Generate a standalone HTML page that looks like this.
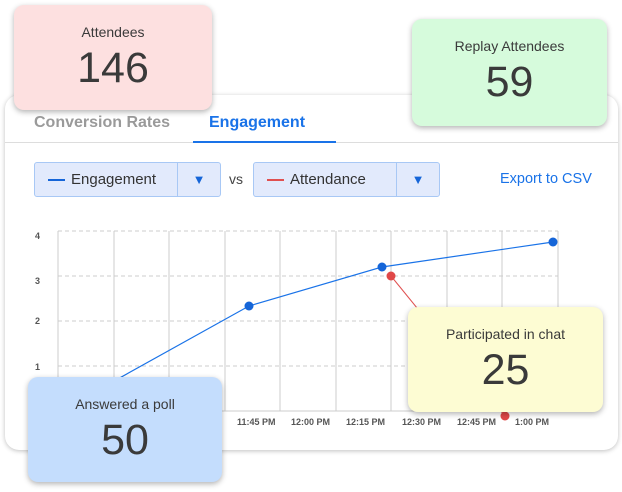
<!DOCTYPE html>
<html><head><style>
body{margin:0;width:622px;height:492px;background:#fff;position:relative;overflow:hidden;font-family:"Liberation Sans",sans-serif;}
.main{position:absolute;left:5px;top:95px;width:613px;height:355px;background:#fff;border-radius:14px;box-shadow:0 1px 5px rgba(0,0,0,.25);}
.card{position:absolute;border-radius:10px;box-shadow:0 2px 6px rgba(0,0,0,.3);text-align:center;color:#3a3a3a;}
.card .t{font-size:14px;margin-top:19px;}
.card .n{font-size:43px;margin-top:4px;}
.dd{position:absolute;top:162px;height:33px;background:#e2eafc;border:1px solid #a8c8f5;border-radius:3px;font-size:15px;color:#333;}
.dd .l{position:absolute;left:13px;top:16px;width:17px;height:2px;}
.dd .x{position:absolute;left:54px;top:8px;}
.dd .a{position:absolute;right:0;top:0;width:42px;height:33px;border-left:1px solid #a8c8f5;color:#1565d8;font-size:13px;text-align:center;line-height:33px;}
.xl{position:absolute;top:417px;font-size:9px;color:#555;font-weight:bold;}
</style></head><body>
<div class="main"></div>
<div style="position:absolute;left:34px;top:114px;font-size:16px;font-weight:bold;color:#9a9a9a">Conversion Rates</div>
<div style="position:absolute;left:209px;top:114px;font-size:16px;font-weight:bold;color:#1a73e8">Engagement</div>
<div style="position:absolute;left:5px;top:142px;width:613px;height:1px;background:#ddd"></div>
<div style="position:absolute;left:193px;top:141px;width:143px;height:2px;background:#1a73e8"></div>
<div class="dd" style="left:34px;width:185px"><div class="l" style="background:#1565d8"></div><div class="x" style="left:36px">Engagement</div><div class="a">▼</div></div>
<div style="position:absolute;left:229px;top:171px;font-size:14px;color:#444">vs</div>
<div class="dd" style="left:253px;width:185px"><div class="l" style="background:#e05050"></div><div class="x" style="left:36px">Attendance</div><div class="a">▼</div></div>
<div style="position:absolute;left:500px;top:171px;font-size:14.5px;color:#1a73e8">Export to CSV</div>
<svg style="position:absolute;left:0;top:0" width="622" height="492">
<g stroke="#ccc" stroke-dasharray="4,3" stroke-width="1">
<line x1="58" y1="231" x2="558" y2="231"/><line x1="58" y1="276" x2="558" y2="276"/><line x1="58" y1="321" x2="558" y2="321"/><line x1="58" y1="366" x2="558" y2="366"/></g>
<g stroke="#ccc" stroke-width="1">
<line x1="58" y1="231" x2="58" y2="411"/><line x1="114" y1="231" x2="114" y2="411"/><line x1="169" y1="231" x2="169" y2="411"/><line x1="225" y1="231" x2="225" y2="411"/><line x1="280" y1="231" x2="280" y2="411"/><line x1="336" y1="231" x2="336" y2="411"/><line x1="391" y1="231" x2="391" y2="411"/><line x1="447" y1="231" x2="447" y2="411"/><line x1="502" y1="231" x2="502" y2="411"/><line x1="558" y1="231" x2="558" y2="411"/><line x1="58" y1="411" x2="558" y2="411"/></g>
<g font-size="9" fill="#555" font-weight="bold" font-family="Liberation Sans"><text x="35" y="239">4</text><text x="35" y="284">3</text><text x="35" y="324">2</text><text x="35" y="370">1</text></g>
<polyline points="80,400 249,306 382,267 553,242" fill="none" stroke="#1a73e8" stroke-width="1.2"/>
<polyline points="391,276 505,416" fill="none" stroke="#e05050" stroke-width="1"/>
<g fill="#1565d8"><circle cx="249" cy="306" r="4.5"/><circle cx="382" cy="267" r="4.5"/><circle cx="553" cy="242" r="4.5"/></g>
<g fill="#e04848"><circle cx="391" cy="276" r="4.5"/><circle cx="505" cy="416" r="4.5"/></g>
</svg>
<div class="xl" style="left:237px">11:45 PM</div><div class="xl" style="left:291px">12:00 PM</div><div class="xl" style="left:346px">12:15 PM</div><div class="xl" style="left:402px">12:30 PM</div><div class="xl" style="left:457px">12:45 PM</div><div class="xl" style="left:515px">1:00 PM</div>
<div class="card" style="left:14px;top:5px;width:198px;height:105px;background:#fde0e0"><div class="t">Attendees</div><div class="n">146</div></div>
<div class="card" style="left:412px;top:19px;width:195px;height:107px;background:#d6fbdc"><div class="t">Replay Attendees</div><div class="n">59</div></div>
<div class="card" style="left:28px;top:377px;width:194px;height:105px;background:#c4ddfd"><div class="t">Answered a poll</div><div class="n">50</div></div>
<div class="card" style="left:408px;top:307px;width:195px;height:105px;background:#fdfcd3"><div class="t">Participated in chat</div><div class="n">25</div></div>
</body></html>
